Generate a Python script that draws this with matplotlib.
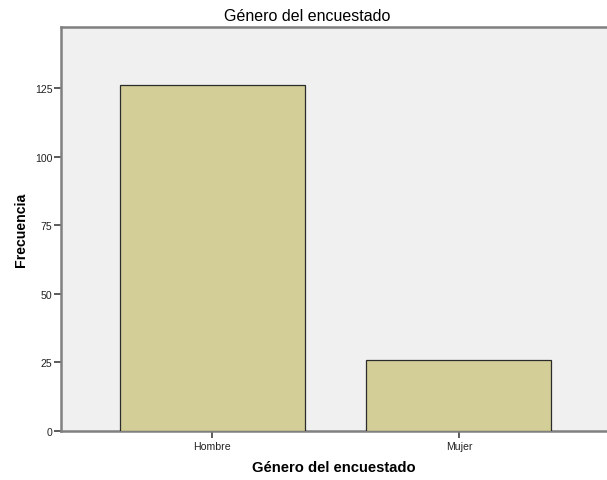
import matplotlib
matplotlib.use("Agg")
import matplotlib.pyplot as plt

categories = ["Hombre", "Mujer"]
frequencies = [126, 26]
y_ticks = [0, 25, 50, 75, 100, 125]

plt.rcParams["font.family"] = ["Liberation Sans", "DejaVu Sans"]

fig = plt.figure(figsize=(6.07, 4.81), dpi=100)
ax = fig.add_axes([61 / 607, 49 / 481, 1 - 61 / 607, (432 - 28) / 481])
ax.set_facecolor("#F0F0F0")

positions = list(range(len(categories)))
ax.bar(positions, frequencies, width=0.75, color="#D3CE97",
       edgecolor="#2B2B2B", linewidth=0.9, zorder=3)

ax.set_xlim(-0.613, 1.6)
ax.set_ylim(0, 147.3)
ax.set_xticks(positions)
ax.set_xticklabels(categories)
ax.set_yticks(y_ticks)

ax.spines["right"].set_visible(False)
for side in ["left", "bottom", "top"]:
    ax.spines[side].set_color("#808080")
    ax.spines[side].set_linewidth(1.8)

ax.tick_params(axis="both", colors="#404040", labelsize=7.6, length=5,
               width=1.2, labelcolor="#222222")
ax.tick_params(axis="y", pad=1)
ax.tick_params(axis="x", pad=2)

# title sits near the figure centre, not the axes centre
ax.set_title("Género del encuestado", fontsize=11.5, pad=5, x=(307 - 61) / 546)
ax.set_xlabel("Género del encuestado", fontsize=10.6, fontweight="bold", labelpad=7)
ax.set_ylabel("Frecuencia", fontsize=10.2, fontweight="bold", labelpad=5)

fig.savefig("out.png", dpi=100)
